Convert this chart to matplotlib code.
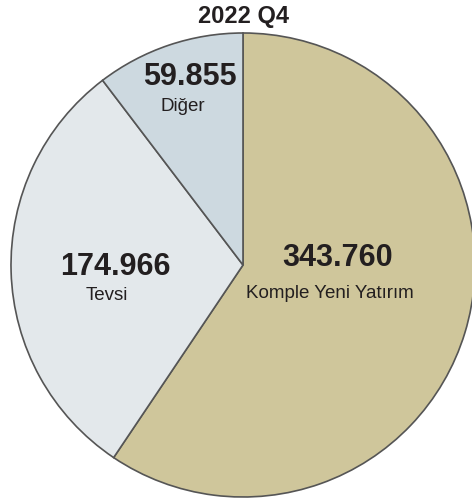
import matplotlib.pyplot as plt

labels = ["Komple Yeni Yatırım", "Tevsi", "Diğer"]
values = [343.760, 174.966, 59.855]
value_text = ["343.760", "174.966", "59.855"]
colors = ["#cfc69b", "#e3e8eb", "#cdd9e0"]
title = "2022 Q4"

W, H = 472, 501
fig = plt.figure(figsize=(W / 100, H / 100), dpi=100)
ax = fig.add_axes([0, 0, 1, 1])

# pie drawn in pixel coords; y axis is flipped so counterclock=True gives clockwise on screen
ax.pie(values, colors=colors, startangle=-90, counterclock=True,
       center=(243, 265), radius=232, frame=True,
       wedgeprops=dict(edgecolor="#555555", linewidth=1.2))
ax.set_xlim(0, W)
ax.set_ylim(H, 0)
ax.axis("off")

ax.text(244, 16, title, ha="center", va="center", fontsize=17,
        fontweight="bold", family="Liberation Sans", color="#231f20")

num_pos = [(338, 258), (115, 267), (190, 77)]
lab_pos = [(330, 293), (107, 296), (183, 106)]
for t, l, p, q in zip(value_text, labels, num_pos, lab_pos):
    ax.text(p[0], p[1], t, ha="center", va="center", fontsize=22,
            fontweight="bold", family="Liberation Sans", color="#231f20")
    ax.text(q[0], q[1], l, ha="center", va="center", fontsize=13.5,
            family="Liberation Sans", color="#231f20")

fig.savefig("out.png", dpi=100)
